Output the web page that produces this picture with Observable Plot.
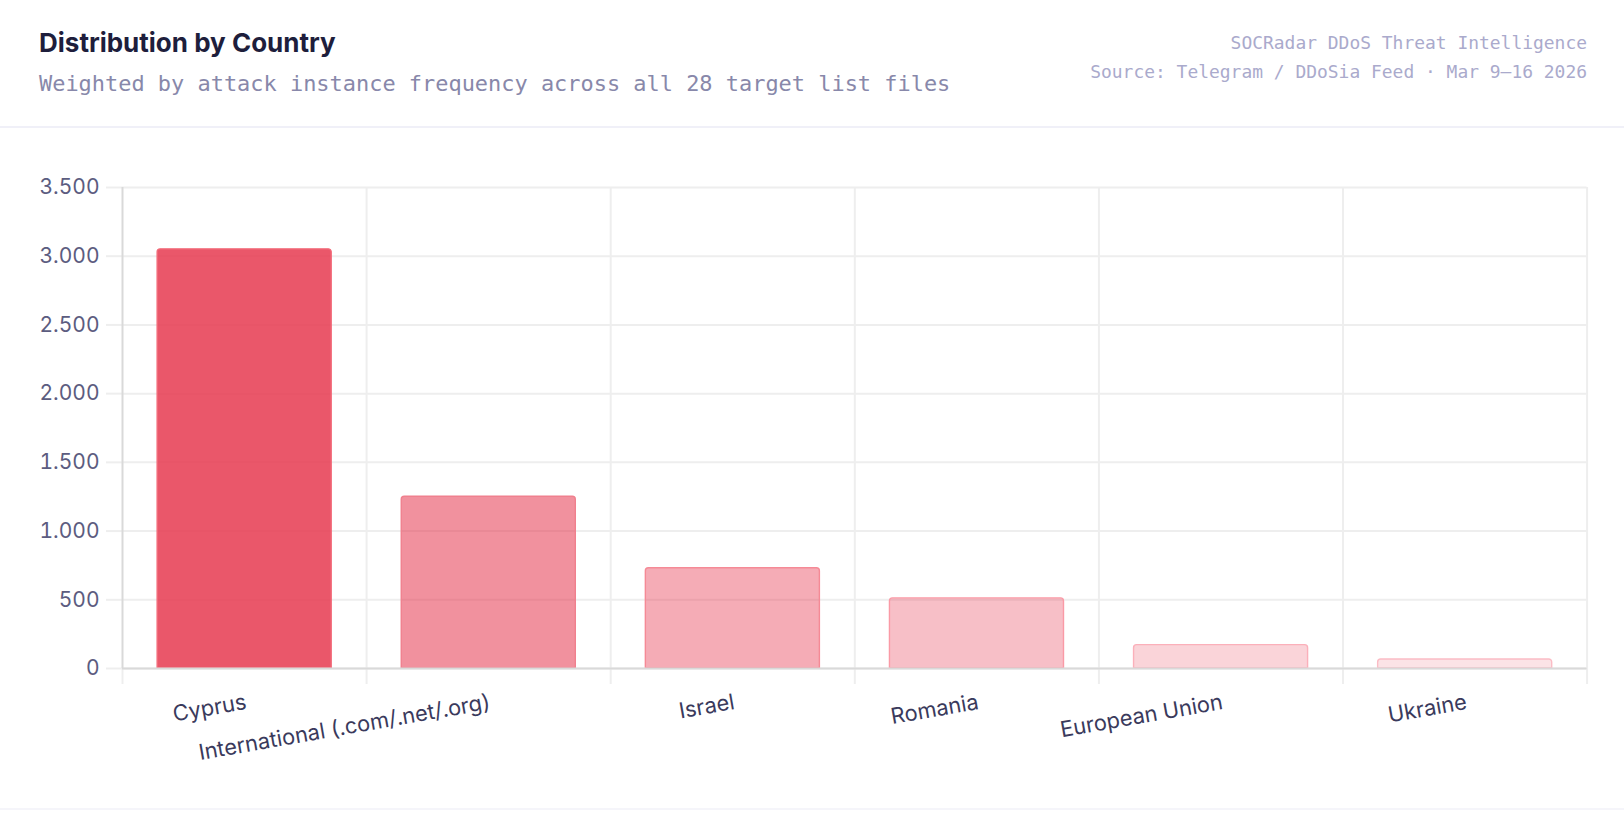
<!DOCTYPE html>
<html>
<head>
<meta charset="utf-8">
<script src="https://cdn.jsdelivr.net/npm/d3@7"></script>
<script src="https://cdn.jsdelivr.net/npm/@observablehq/plot@0.6"></script>
<style>
html,body{margin:0;padding:0;background:#fff;width:1624px;height:818px;overflow:hidden}
#header{position:relative;height:126px;border-bottom:2px solid #f0f0f8;box-sizing:content-box}
#title{position:absolute;left:39px;top:25px;font:700 26px/36px Inter,sans-serif;color:#1e1e3c;margin:0}
#sub{position:absolute;left:39px;top:69px;font:400 21.95px/30px "DejaVu Sans Mono",monospace;color:#8888aa}
#src{position:absolute;right:37px;top:28px;text-align:right;font:400 17.95px/29px "DejaVu Sans Mono",monospace;color:#aaaacc}
#chart{height:680px;border-bottom:2px solid #f5f5fa}
svg{display:block}
</style>
</head>
<body>
<div id="header">
  <h1 id="title">Distribution by Country</h1>
  <div id="sub">Weighted by attack instance frequency across all 28 target list files</div>
  <div id="src">SOCRadar DDoS Threat Intelligence<br>Source: Telegram / DDoSia Feed · Mar 9–16 2026</div>
</div>
<div id="chart"></div>
<script>
const categories = ["Cyprus","International (.com/.net/.org)","Israel","Romania","European Union","Ukraine"];
const values = [3050,1250,730,510,170,66];
const fillAlpha = [0.85,0.555,0.42,0.32,0.22,0.14];
const strokeColors = ["#f26a78","#f0808e","#f58a96","#fa9aa6","#fbb0ba","#fbbcc5"];
const yTicks = [0,500,1000,1500,2000,2500,3000,3500];

const rows = categories.map((name,i)=>({name,i,value:values[i],alpha:fillAlpha[i],stroke:strokeColors[i]}));
const edges = d3.range(categories.length+1);
const centers = categories.map((_,i)=>i+0.5);
const grid = "#eeeeee", axisCol = "#d9d9d9";

const plot = Plot.plot({
  width:1624, height:680,
  marginLeft:122, marginRight:37.4, marginTop:59, marginBottom:140,
  style:{background:"transparent",fontFamily:"Inter, sans-serif",overflow:"visible"},
  x:{domain:[0,categories.length],axis:null},
  y:{domain:[0,3500],axis:null},
  marks:[
    Plot.ruleY(yTicks,{y:d=>d,stroke:grid,strokeWidth:2}),
    Plot.ruleX(edges.slice(1),{x:d=>d,stroke:grid,strokeWidth:2}),
    Plot.axisX({ticks:edges,tickSize:16,tickFormat:()=>"",stroke:grid,strokeWidth:2,strokeOpacity:1,label:null,tickPadding:0}),
    Plot.axisY({ticks:yTicks,tickSize:16,tickPadding:7,stroke:grid,strokeWidth:2,strokeOpacity:1,fontSize:21,fill:"#5c5c80",
      tickFormat:d=>d3.format(",")(d).replace(",","."),label:null}),
    Plot.rect(rows,{x1:d=>d.i+0.144,x2:d=>d.i+0.857,y1:()=>0,y2:"value",fill:"#e63950",fillOpacity:"alpha",stroke:"stroke",strokeWidth:1.4,ry2:3,rx:3}),
    Plot.axisX({ticks:centers,tickSize:0,tickPadding:25,tickRotate:-10,textAnchor:"end",dx:0,fontSize:21.8,fill:"#3a3a5c",
      tickFormat:d=>categories[d-0.5],label:null,lineAnchor:"top"}),
    Plot.ruleX([0],{stroke:axisCol,strokeWidth:2}),
    Plot.ruleY([0],{stroke:axisCol,strokeWidth:2})
  ]
});
document.getElementById("chart").append(plot);
</script>
</body>
</html>
